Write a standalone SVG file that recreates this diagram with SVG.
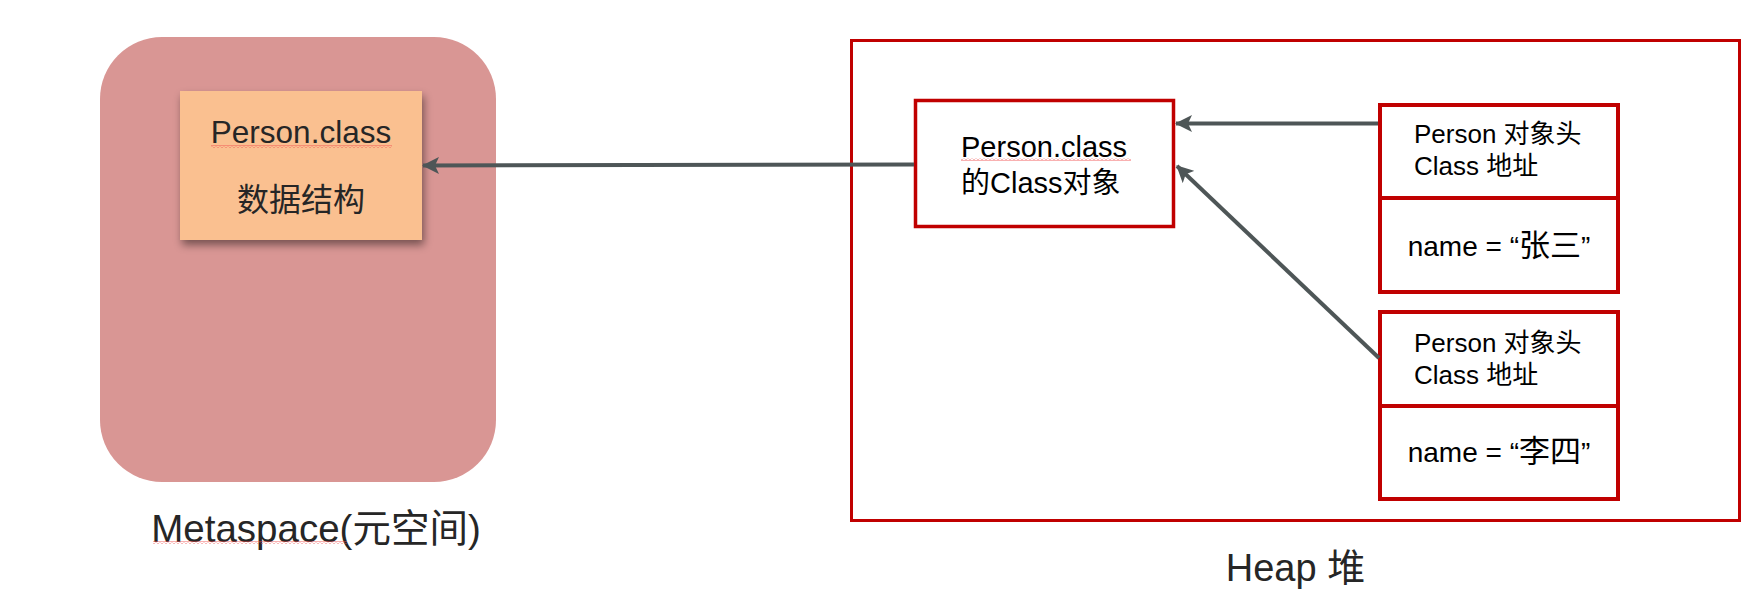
<svg xmlns="http://www.w3.org/2000/svg" width="1743" height="597" viewBox="0 0 1743 597">
<defs>
<style>
.red{fill:#fff;stroke:#C00000}
.lat{font-family:"Liberation Sans","Noto Sans CJK SC",sans-serif}
.dark{fill:#262626}
.blk{fill:#000}
.cjk{font-size:31px}
.conn{stroke:#4E5657;stroke-width:4;fill:none}
</style>
<marker id="ah" viewBox="0 0 17 17" refX="16" refY="8.5" markerWidth="17" markerHeight="17" markerUnits="userSpaceOnUse" orient="auto">
<path d="M0,0 L17,8.5 L0,17 L4,8.5 z" fill="#4E5657"/>
</marker>
<filter id="sh" x="-10%" y="-10%" width="130%" height="130%">
<feDropShadow dx="2" dy="5" stdDeviation="4" flood-color="#000" flood-opacity="0.45"/>
</filter>
<pattern id="sq" width="4" height="3" patternUnits="userSpaceOnUse">
<path d="M0,2.5 L2,0.5 L4,2.5" fill="none" stroke="#F05050" stroke-width="0.9"/>
</pattern>
</defs>
<rect width="1743" height="597" fill="#fff"/>

<g id="metaspace">
<rect x="100" y="37" width="396" height="445" rx="62" ry="62" fill="#D99694"/>
<text class="lat dark" x="316" y="542" font-size="38.5" text-anchor="middle">Metaspace(元空间)</text>
<rect x="153" y="541" width="194" height="3" fill="url(#sq)"/>
</g>

<g id="class-data">
<rect x="180" y="91" width="242" height="149" fill="#FAC090" filter="url(#sh)"/>
<text class="lat dark" x="301" y="143" font-size="31.5" text-anchor="middle">Person.class</text>
<rect x="211" y="145" width="181" height="3" fill="url(#sq)"/>
<text class="lat dark" x="301" y="211" font-size="32" text-anchor="middle">数据结构</text>
</g>

<g id="heap">
<rect class="red" x="851.5" y="40.5" width="888" height="480" stroke-width="3"/>
<text class="lat dark" x="1295.5" y="581" font-size="38" text-anchor="middle">Heap 堆</text>
</g>

<g id="class-object">
<rect class="red" x="915.5" y="100.5" width="258" height="126" stroke-width="3.5"/>
<text class="lat blk" x="961" y="157" font-size="29">Person.class</text>
<rect x="961" y="158" width="170" height="3" fill="url(#sq)"/>
<text class="lat blk" x="961" y="193" font-size="29">的Class对象</text>
</g>

<g id="person1-header">
<rect class="red" x="1380" y="105" width="238" height="93" stroke-width="4"/>
<text class="lat blk" x="1414" y="143" font-size="26">Person 对象头</text>
<text class="lat blk" x="1414" y="175" font-size="26">Class 地址</text>
</g>
<g id="person1-name">
<rect class="red" x="1380" y="198" width="238" height="94" stroke-width="4"/>
<text class="lat blk" x="1499" y="256" font-size="28" text-anchor="middle">name = “<tspan class="cjk">张三</tspan>”</text>
</g>

<g id="person2-header">
<rect class="red" x="1380" y="312" width="238" height="94" stroke-width="4"/>
<text class="lat blk" x="1414" y="352" font-size="26">Person 对象头</text>
<text class="lat blk" x="1414" y="384" font-size="26">Class 地址</text>
</g>
<g id="person2-name">
<rect class="red" x="1380" y="406" width="238" height="93" stroke-width="4"/>
<text class="lat blk" x="1499" y="462" font-size="28" text-anchor="middle">name = “<tspan class="cjk">李四</tspan>”</text>
</g>

<g id="connectors">
<line class="conn" x1="914" y1="164.5" x2="423" y2="165.5" marker-end="url(#ah)"/>
<line class="conn" x1="1378" y1="123.5" x2="1176" y2="123.5" marker-end="url(#ah)"/>
<line class="conn" x1="1379" y1="358" x2="1177" y2="166" marker-end="url(#ah)"/>
</g>
</svg>
